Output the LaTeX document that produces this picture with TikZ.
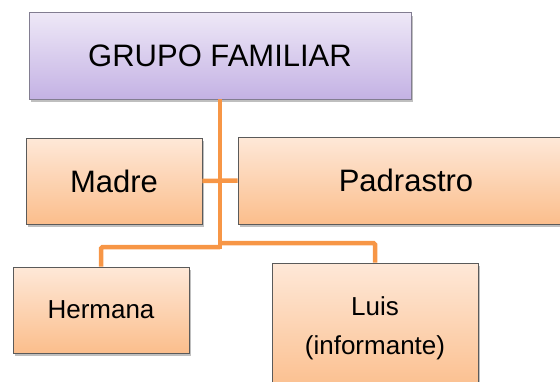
\documentclass[tikz,border=0pt]{standalone}
\usepackage{fontspec}
\setmainfont{Liberation Sans}
\usetikzlibrary{shadows}
\definecolor{orline}{RGB}{247,150,70}
\definecolor{ortop}{RGB}{254,232,216}
\definecolor{orbot}{RGB}{251,190,140}
\definecolor{putop}{RGB}{238,232,247}
\definecolor{pubot}{RGB}{196,178,228}
\definecolor{obord}{RGB}{90,90,90}
\definecolor{pbord}{RGB}{130,125,145}
\tikzset{
  shad/.style={drop shadow={shadow xshift=2pt,shadow yshift=-3pt,fill=black,opacity=0.25}},
  obox/.style={draw=obord, line width=0.6pt, top color=ortop, bottom color=orbot, shad, inner sep=0pt, align=center},
  pbox/.style={draw=pbord, line width=0.6pt, top color=putop, bottom color=pubot, shad, inner sep=0pt, align=center},
  conn/.style={draw=orline, line width=4.5pt},
  big/.style={font=\fontsize{31}{37}\selectfont},
  small/.style={font=\fontsize{26}{39}\selectfont},
}
\begin{document}
\begin{tikzpicture}[x=1pt,y=-1pt]
\useasboundingbox (0,0) rectangle (560,381);
\clip (0,0) rectangle (560,381);
\coordinate (jl) at (220,247);
\coordinate (jr) at (220,243);
\coordinate (jb) at (220,249);
\node[pbox, big, minimum width=382pt, minimum height=86.5pt] (grupo) at (220,55.75) {GRUPO FAMILIAR};
\node[obox, big, minimum width=176pt, minimum height=86pt] (madre) at (114,181) {Madre};
\node[obox, big, minimum width=336pt, minimum height=87pt] (padr) at (406,180.5) {Padrastro};
\node[obox, small, minimum width=176pt, minimum height=86pt] (herm) at (101,310) {Hermana};
\node[obox, small, minimum width=206pt, minimum height=130pt] (luis) at (375,328) {Luis\\(informante)};
\draw[conn] (grupo.south) -- (jb);
\draw[conn] (madre.east) -- (padr.west);
\draw[conn, rounded corners=1.5pt] (jl) -| (herm.north);
\draw[conn, rounded corners=1.5pt] (jr) -| (luis.north);
\end{tikzpicture}
\end{document}
